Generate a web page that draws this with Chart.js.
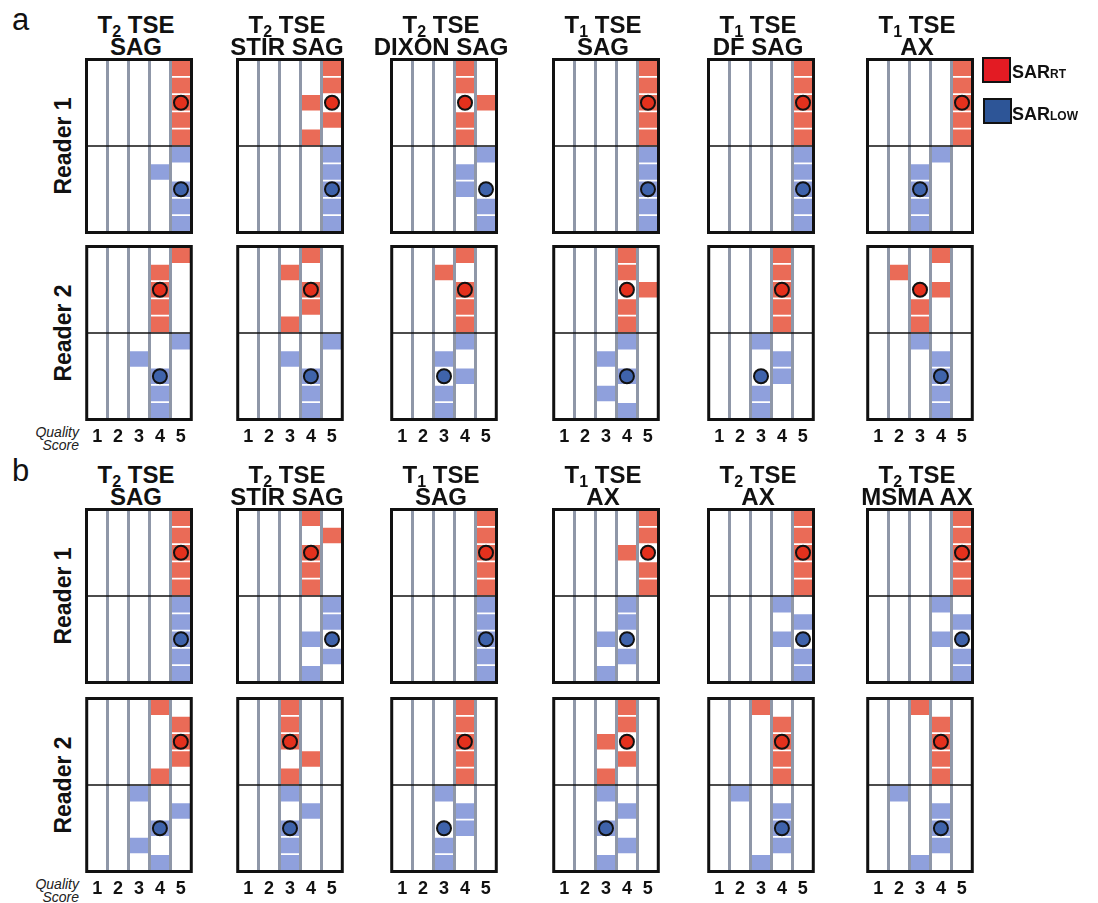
<!DOCTYPE html>
<html>
<head>
<meta charset="utf-8">
<script src="https://cdn.jsdelivr.net/npm/chart.js@4.4.1/dist/chart.umd.min.js"></script>
<style>
    body { margin: 0; background: #fff; font-family: 'Liberation Sans', Arial, sans-serif; color: #111; }
    #wrap { position: relative; width: 1098px; height: 903px; overflow: hidden; }
    .abs { position: absolute; }
    .ttl { width: 200px; text-align: center; font-weight: bold; font-size: 24px; line-height: 19px; white-space: nowrap; }
    .sub { font-size: 16px; position: relative; top: 4px; }
    .sec { font-size: 31px; line-height: 30px; }
    .reader { font-weight: bold; font-size: 23px; line-height: 23px; white-space: nowrap; transform: translate(-50%, -50%) rotate(-90deg); }
    .qs { width: 60px; text-align: right; font-style: italic; font-size: 14px; line-height: 13px; color: #222; }
    .key { width: 25px; height: 22px; border: 2px solid #111; }
    .keytxt { font-weight: bold; font-size: 18px; line-height: 20px; }
    .keytxt span { font-size: 12px; }
</style>
</head>
<body>
<div id="wrap"></div>
<script>
// quality scores read per case: 5 cases per half, one array per sequence
var scoreTicks = ['1', '2', '3', '4', '5']
var sequencesA = [['T2 TSE', 'SAG'], ['T2 TSE', 'STIR SAG'], ['T2 TSE', 'DIXON SAG'], ['T1 TSE', 'SAG'], ['T1 TSE', 'DF SAG'], ['T1 TSE', 'AX']]
var sequencesB = [['T2 TSE', 'SAG'], ['T2 TSE', 'STIR SAG'], ['T1 TSE', 'SAG'], ['T1 TSE', 'AX'], ['T2 TSE', 'AX'], ['T2 TSE', 'MSMA AX']]

var aReader1Rt = [[5, 5, 5, 5, 5], [5, 5, 4, 5, 4], [4, 4, 5, 4, 4], [5, 5, 5, 5, 5], [5, 5, 5, 5, 5], [5, 5, 5, 5, 5]]
var aReader1Low = [[5, 4, 5, 5, 5], [5, 5, 5, 5, 5], [5, 4, 4, 5, 5], [5, 5, 5, 5, 5], [5, 5, 5, 5, 5], [4, 3, 3, 3, 3]]
var aReader2Rt = [[5, 4, 4, 4, 4], [4, 3, 4, 4, 3], [4, 3, 4, 4, 4], [4, 4, 5, 4, 4], [4, 4, 4, 4, 4], [4, 2, 4, 3, 3]]
var aReader2Low = [[5, 3, 4, 4, 4], [5, 3, 4, 4, 4], [4, 3, 4, 3, 3], [4, 3, 4, 3, 4], [3, 4, 4, 3, 3], [3, 4, 4, 4, 4]]
var aReader1RtMedian = [5, 5, 4, 5, 5, 5]
var aReader1LowMedian = [5, 5, 5, 5, 5, 3]
var aReader2RtMedian = [4, 4, 4, 4, 4, 3]
var aReader2LowMedian = [4, 4, 3, 4, 3, 4]

var bReader1Rt = [[5, 5, 5, 5, 5], [4, 5, 4, 4, 4], [5, 5, 5, 5, 5], [5, 5, 4, 5, 5], [5, 5, 5, 5, 5], [5, 5, 5, 5, 5]]
var bReader1Low = [[5, 5, 5, 5, 5], [5, 5, 4, 5, 4], [5, 5, 5, 5, 5], [4, 4, 3, 4, 3], [4, 5, 4, 5, 5], [4, 5, 4, 5, 5]]
var bReader2Rt = [[4, 5, 5, 5, 4], [3, 3, 3, 4, 3], [4, 4, 4, 4, 4], [4, 4, 3, 4, 3], [3, 4, 4, 4, 4], [3, 4, 4, 4, 4]]
var bReader2Low = [[3, 5, 4, 3, 4], [3, 4, 3, 3, 3], [3, 4, 4, 3, 3], [3, 4, 3, 4, 3], [2, 4, 4, 4, 3], [2, 4, 4, 4, 3]]
var bReader1RtMedian = [5, 4, 5, 5, 5, 5]
var bReader1LowMedian = [5, 5, 5, 4, 5, 5]
var bReader2RtMedian = [5, 3, 4, 4, 4, 4]
var bReader2LowMedian = [4, 3, 3, 3, 4, 4]

// layout
var panelLeft = [85, 236, 390, 552, 707, 866]
var panelW = 108
var panelH = 176
var tickH = 26
var rowNames = ['r1', 'r2', 'r3', 'r4', 'r5', 'l1', 'l2', 'l3', 'l4', 'l5']

var wrap = document.getElementById('wrap')

var fnAddDiv = (cls, html, left, top) => {
    var d = document.createElement('div')
    d.className = 'abs ' + cls
    d.innerHTML = html
    d.style.left = left + 'px'
    d.style.top = top + 'px'
    wrap.appendChild(d)
    return d
}

var framePlugin = {
    id: 'frame',
    afterDraw: (chart) => {
        var ctx = chart.ctx
        var a = chart.chartArea
        var y = chart.scales.y
        var mid = (y.getPixelForValue(4) + y.getPixelForValue(5)) / 2
        ctx.save()
        ctx.strokeStyle = '#111'
        ctx.lineWidth = 1.6
        ctx.beginPath()
        ctx.moveTo(a.left, mid)
        ctx.lineTo(a.right, mid)
        ctx.stroke()
        ctx.lineWidth = 3
        ctx.strokeRect(a.left, a.top, a.right - a.left, a.bottom - a.top)
        ctx.restore()
    }
}

var fnDrawPanel = (left, top, rt, low, rtMed, lowMed, showTicks) => {
    var h = panelH + (showTicks ? tickH : 0)
    var canvas = document.createElement('canvas')
    canvas.className = 'abs'
    canvas.style.left = left + 'px'
    canvas.style.top = top + 'px'
    canvas.style.width = panelW + 'px'
    canvas.style.height = h + 'px'
    canvas.width = panelW
    canvas.height = h
    wrap.appendChild(canvas)

    var rtBars = rowNames.map((r, i) => i < 5 ? [rt[i] - 0.5, rt[i] + 0.5] : null)
    var lowBars = rowNames.map((r, i) => i >= 5 ? [low[i - 5] - 0.5, low[i - 5] + 0.5] : null)

    new Chart(canvas.getContext('2d'), {
        type: 'bar',
        data: {
            labels: rowNames,
            datasets: [
                { type: 'line', data: [{ x: rtMed, y: 'r3' }], showLine: false, pointRadius: 7, pointBorderWidth: 2, pointBackgroundColor: '#e4311d', pointBorderColor: '#111', order: 0 },
                { type: 'line', data: [{ x: lowMed, y: 'l3' }], showLine: false, pointRadius: 7, pointBorderWidth: 2, pointBackgroundColor: '#3f63ab', pointBorderColor: '#111', order: 0 },
                { data: rtBars, backgroundColor: '#ea6b57', grouped: false, barPercentage: 0.9, categoryPercentage: 1, order: 1 },
                { data: lowBars, backgroundColor: '#8fa0dc', grouped: false, barPercentage: 0.9, categoryPercentage: 1, order: 1 }
            ]
        },
        options: {
            indexAxis: 'y',
            responsive: false,
            animation: false,
            events: [],
            layout: { autoPadding: false, padding: { left: 1.5, right: 1.5, top: 1.5, bottom: 1.5 } },
            plugins: { legend: { display: false }, tooltip: { enabled: false } },
            scales: {
                y: { type: 'category', display: false, offset: true },
                x: {
                    type: 'linear', min: 0.5, max: 5.5, position: 'bottom', display: showTicks,
                    grid: { display: false, drawTicks: false },
                    border: { display: false },
                    ticks: { padding: 7, color: '#111', font: { family: 'Liberation Sans', weight: 'bold', size: 18 }, callback: (v, i) => scoreTicks[i] },
                    afterBuildTicks: (s) => { s.ticks = scoreTicks.map((t) => ({ value: +t })) },
                    afterFit: (s) => { s.height = showTicks ? tickH : 0 }
                },
                x2: {
                    type: 'linear', min: 0.5, max: 5.5, position: 'top',
                    grid: { color: '#8f97a8', lineWidth: 3, drawTicks: false, z: 1 },
                    border: { display: false },
                    ticks: { display: false },
                    afterBuildTicks: (s) => { s.ticks = [1.5, 2.5, 3.5, 4.5].map((v) => ({ value: v })) },
                    afterFit: (s) => { s.height = 0 }
                }
            }
        },
        plugins: [framePlugin]
    })
}

var fnTitle = (t) => t.replace(/^T([12]) /, 'T<span class="sub">$1</span> ')

var fnDrawSection = (label, labelTop, tops, seqs, r1rt, r1low, r2rt, r2low, r1rtm, r1lowm, r2rtm, r2lowm) => {
    fnAddDiv('sec', label, 12, labelTop)
    seqs.forEach((s, i) => {
        fnAddDiv('ttl', fnTitle(s[0]) + '<br>' + s[1], panelLeft[i] + panelW / 2 - 103, tops[0] - 43)
        fnDrawPanel(panelLeft[i], tops[0], r1rt[i], r1low[i], r1rtm[i], r1lowm[i], false)
        fnDrawPanel(panelLeft[i], tops[1], r2rt[i], r2low[i], r2rtm[i], r2lowm[i], true)
    })
    fnAddDiv('reader', 'Reader 1', 63, tops[0] + panelH / 2)
    fnAddDiv('reader', 'Reader 2', 63, tops[1] + panelH / 2)
    fnAddDiv('qs', 'Quality<br>Score', 19, tops[1] + panelH + 5)
}

fnDrawSection('a', 5, [58, 245], sequencesA, aReader1Rt, aReader1Low, aReader2Rt, aReader2Low,
    aReader1RtMedian, aReader1LowMedian, aReader2RtMedian, aReader2LowMedian)
fnDrawSection('b', 456, [508, 697], sequencesB, bReader1Rt, bReader1Low, bReader2Rt, bReader2Low,
    bReader1RtMedian, bReader1LowMedian, bReader2RtMedian, bReader2LowMedian)

// legend
var k1 = fnAddDiv('key', '', 982, 57)
k1.style.background = '#e31b23'
var k2 = fnAddDiv('key', '', 983, 98)
k2.style.background = '#2d5597'
fnAddDiv('keytxt', 'SAR<span>RT</span>', 1012, 62)
fnAddDiv('keytxt', 'SAR<span>LOW</span>', 1012, 104)
</script>
</body>
</html>
